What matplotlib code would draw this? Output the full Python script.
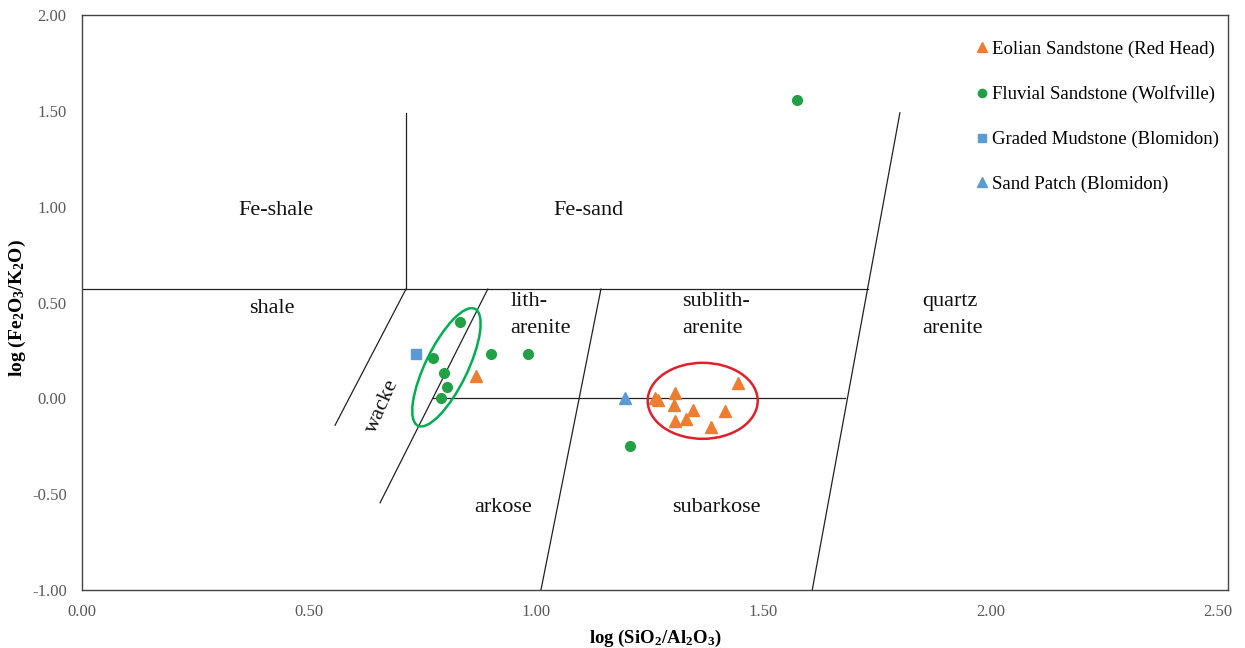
import matplotlib
matplotlib.use("Agg")
import matplotlib.pyplot as plt
from matplotlib.patches import Ellipse
from matplotlib.transforms import ScaledTranslation

plt.rcParams['font.family'] = ['Liberation Serif', 'DejaVu Serif']
plt.rcParams['mathtext.fontset'] = 'custom'
plt.rcParams['mathtext.rm'] = 'Liberation Serif:bold'
plt.rcParams['mathtext.default'] = 'rm'

# --- data (log SiO2/Al2O3, log Fe2O3/K2O) ---
eolian_x = [0.866, 1.268, 1.262, 1.305, 1.303, 1.345, 1.305, 1.329, 1.384, 1.414, 1.444]
eolian_y = [0.114, -0.01, 0.00, 0.03, -0.034, -0.06, -0.117, -0.107, -0.147, -0.065, 0.079]
fluvial_x = [1.574, 0.832, 0.772, 0.900, 0.981, 0.797, 0.803, 0.790, 1.206]
fluvial_y = [1.557, 0.40, 0.21, 0.23, 0.23, 0.13, 0.06, 0.00, -0.25]
mud_x = [0.736]
mud_y = [0.23]
patch_x = [1.195]
patch_y = [0.00]

# classification field boundaries (Herron 1988)
boundaries = [
    ([0.0, 1.73], [0.57, 0.57]),
    ([0.713, 0.713], [0.57, 1.49]),
    ([0.713, 0.557], [0.57, -0.14]),
    ([0.893, 0.656], [0.57, -0.545]),
    ([0.772, 1.679], [0.0, 0.0]),
    ([1.142, 1.010], [0.57, -1.0]),
    ([1.607, 1.800], [-1.0, 1.49]),
]
field_labels = [
    ("Fe-shale", 0.427, 0.98, 0),
    ("Fe-sand", 1.114, 0.98, 0),
    ("shale", 0.418, 0.47, 0),
    ("lith-\narenite", 1.01, 0.435, 0),
    ("sublith-\narenite", 1.395, 0.435, 0),
    ("quartz\narenite", 1.915, 0.435, 0),
    ("arkose", 0.927, -0.57, 0),
    ("subarkose", 1.395, -0.57, 0),
    ("wacke", 0.662, -0.04, 66),
]
xticks = [0.0, 0.5, 1.0, 1.5, 2.0, 2.5]
yticks = [-1.0, -0.5, 0.0, 0.5, 1.0, 1.5, 2.0]

fig = plt.figure(figsize=(12.45, 6.48), dpi=100)
ax = fig.add_axes([82/1245, 1-590/648, (1228-82)/1245, (590-15)/648])
ax.set_xlim(0, 2.522)
ax.set_ylim(-1, 2)

for bx, by in boundaries:
    ax.plot(bx, by, color='#222222', lw=0.9, zorder=1)

for txt, x, y, rot in field_labels:
    ax.text(x, y, txt, ha='center', va='center', fontsize=16, rotation=rot,
            linespacing=1.55, multialignment='left', color='#111111')

ax.plot(eolian_x, eolian_y, '^', color='#ED7D31', ms=8.5, ls='none', zorder=3,
        label='Eolian Sandstone (Red Head)')
ax.plot(fluvial_x, fluvial_y, 'o', color='#22A045', ms=7, ls='none', zorder=3,
        label='Fluvial Sandstone (Wolfville)')
ax.plot(mud_x, mud_y, 's', color='#5B9BD5', ms=7, ls='none', zorder=3,
        label='Graded Mudstone (Blomidon)')
ax.plot(patch_x, patch_y, '^', color='#5B9BD5', ms=8.5, ls='none', zorder=3,
        label='Sand Patch (Blomidon)')

# highlight ellipses (sizes in inches, centred at data coords)
def add_ellipse(xc, yc, w, h, ang, color):
    tr = fig.dpi_scale_trans + ScaledTranslation(xc, yc, ax.transData)
    e = Ellipse((0, 0), w, h, angle=ang, transform=tr, fill=False,
                edgecolor=color, lw=1.8, zorder=4)
    ax.add_artist(e)

add_ellipse(0.802, 0.162, 1.30, 0.42, 64, '#00B050')
add_ellipse(1.366, -0.013, 1.10, 0.76, 0, '#E0202A')

ax.set_xticks(xticks)
ax.set_yticks(yticks)
ax.set_xticklabels([f"{v:.2f}" for v in xticks])
ax.set_yticklabels([f"{v:.2f}" for v in yticks])
ax.tick_params(axis='x', length=0, labelsize=12, colors='#595959', pad=10)
ax.tick_params(axis='y', length=0, labelsize=12, colors='#595959', pad=11)
for s in ax.spines.values():
    s.set_color('#444444')
    s.set_linewidth(1.0)

ax.set_xlabel(r'log (SiO$_2$/Al$_2$O$_3$)', fontsize=13.5, fontweight='bold', labelpad=6)
ax.set_ylabel(r'log (Fe$_2$O$_3$/K$_2$O)', fontsize=14, fontweight='bold')
ax.yaxis.set_label_coords(-0.047, 0.49)

ax.legend(loc='upper right', frameon=False, fontsize=13.5, handlelength=0.5,
          handletextpad=0.25, labelspacing=1.47, markerscale=0.85,
          bbox_to_anchor=(1.0, 0.972), borderaxespad=0.1)

fig.savefig('out.png', dpi=100)
